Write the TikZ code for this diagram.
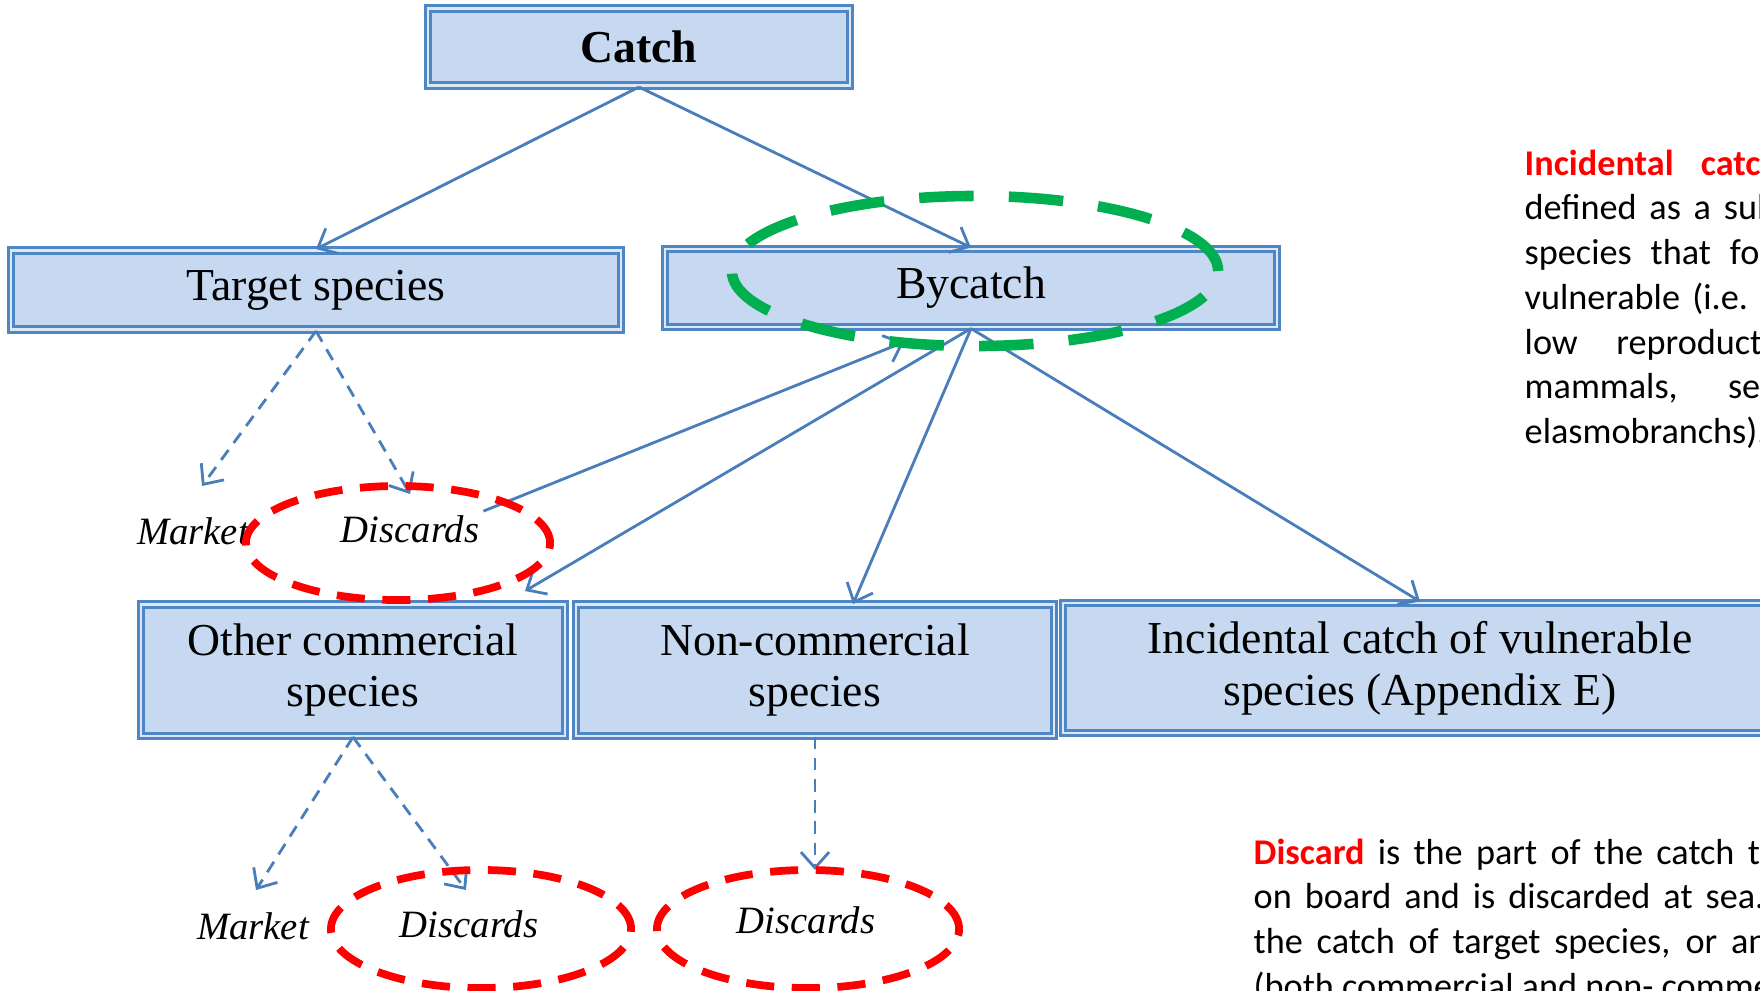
\documentclass[tikz,border=0pt]{standalone}
\usepackage{fontspec}
\setmainfont{Liberation Serif}
\newfontfamily\notefont{Carlito}
\usetikzlibrary{arrows.meta}
\definecolor{boxfill}{HTML}{C6D9F1}
\definecolor{boxstripe}{HTML}{DDE8F5}
\definecolor{boxline}{HTML}{4F86C6}
\definecolor{linkblue}{HTML}{4A7EBB}
\definecolor{ringred}{HTML}{FF0000}
\definecolor{ringgreen}{HTML}{00B050}
\newcommand{\boxfont}{\fontsize{13}{14.7}\selectfont}
\newcommand{\notesize}{\notefont\fontsize{10.3}{12.73}\selectfont}

\begin{document}
\begin{tikzpicture}[x=0.01cm,y=-0.01cm,
  box/.style={draw=boxline,line width=0.85pt,double=boxstripe,double distance=0.6pt,fill=boxfill,align=center,inner sep=2pt,font=\boxfont},
  lbl/.style={font=\itshape\fontsize{11}{13}\selectfont,inner sep=1pt},
  link/.style={draw=linkblue,line width=0.8pt,-{Straight Barb[length=4.5pt,width=8pt]}},
  dlink/.style={link,dash pattern=on 3.5pt off 2.5pt},
  redring/.style={draw=ringred,line width=2.2pt,dash pattern=on 8pt off 5pt},
  greenring/.style={draw=ringgreen,line width=3pt,dash pattern=on 15.5pt off 10pt}]
  \useasboundingbox (0,0) rectangle (1760,990);
  \clip (0,0) rectangle (1760,990);

  % boxes
  \node[box,minimum width=4.22cm,minimum height=0.77cm,font=\boxfont\bfseries] (catch) at (639,47) {Catch};
  \node[box,minimum width=6.10cm,minimum height=0.79cm] (target) at (316,290) {Target species};
  \node[box,minimum width=6.11cm,minimum height=0.78cm] (bycatch) at (971,288) {Bycatch};
  \node[box,minimum width=4.24cm,minimum height=1.31cm] (other) at (353,670) {Other commercial\\species};
  \node[box,minimum width=4.78cm,minimum height=1.31cm] (noncomm) at (815,670) {Non-commercial\\species};
  \node[box,minimum width=7.14cm,minimum height=1.30cm] (incid) at (1420,668) {Incidental catch of vulnerable\\species (Appendix E)};

  % fates of the catch
  \node[lbl] (mkt1) at (193,531) {Market};
  \node[lbl] (dis1) at (410,529) {Discards};
  \node[lbl] (mkt2) at (253,926) {Market};
  \node[lbl] (dis2) at (469,924) {Discards};
  \node[lbl] (dis3) at (806,920) {Discards};

  \coordinate (mkt1tip) at (202,486);
  \coordinate (dis1tip) at (410,494);
  \coordinate (bytip) at (904,342);
  \coordinate (othertip) at (525,591);
  \coordinate (nontip) at (853,604);
  \coordinate (mkt2tip) at (256,890);
  \coordinate (dis2tip) at (466,890);
  \coordinate (dis3tip) at (815,870);

  \draw[link] (catch.south) -- (target.north);
  \draw[link] (catch.south) -- (bycatch.north);
  \draw[dlink] (target.south) -- (mkt1tip);
  \draw[dlink] (target.south) -- (dis1tip);
  \draw[link] (dis1.north east) -- (bytip);
  \draw[link] (bycatch.south) -- (othertip);
  \draw[link] (bycatch.south) -- (nontip);
  \draw[link] (bycatch.south) -- (incid.north);
  \draw[dlink] (other.south) -- (mkt2tip);
  \draw[dlink] (other.south) -- (dis2tip);
  \draw[dlink] (noncomm.south) -- (dis3tip);

  % highlight rings
  \draw[redring] (398,543) ellipse [x radius=1.52cm,y radius=0.57cm];
  \draw[redring] (481,929) ellipse [x radius=1.50cm,y radius=0.59cm];
  \draw[redring] (808,929) ellipse [x radius=1.51cm,y radius=0.59cm];
  \draw[greenring] (975,271) ellipse [x radius=2.43cm,y radius=0.75cm];

  % definitions
  \node[anchor=north west,inner sep=0pt,align=left,font=\notesize] (vulnote) at (1524,149) {%
    \makebox[4cm][s]{\textcolor{ringred}{\textbf{Incidental catch}} is then}\\
    \makebox[4cm][s]{defined as a subset of the}\\
    \makebox[4cm][s]{species that for their life}\\
    \makebox[4cm][s]{vulnerable (i.e. long-lived,}\\
    \makebox[4cm][s]{low reproductive rates,}\\
    \makebox[4cm][s]{mammals, sea turtles,}\\
    elasmobranchs).};
  \node[anchor=north west,inner sep=0pt,align=left,font=\notesize] (discnote) at (1253,838) {%
    \makebox[7.9cm][s]{\textcolor{ringred}{\textbf{Discard}} is the part of the catch that is not retained}\\
    \makebox[7.9cm][s]{on board and is discarded at sea. This may include}\\
    \makebox[7.9cm][s]{the catch of target species, or any other species as}\\
    (both commercial and non- commercial).};
\end{tikzpicture}
\end{document}
